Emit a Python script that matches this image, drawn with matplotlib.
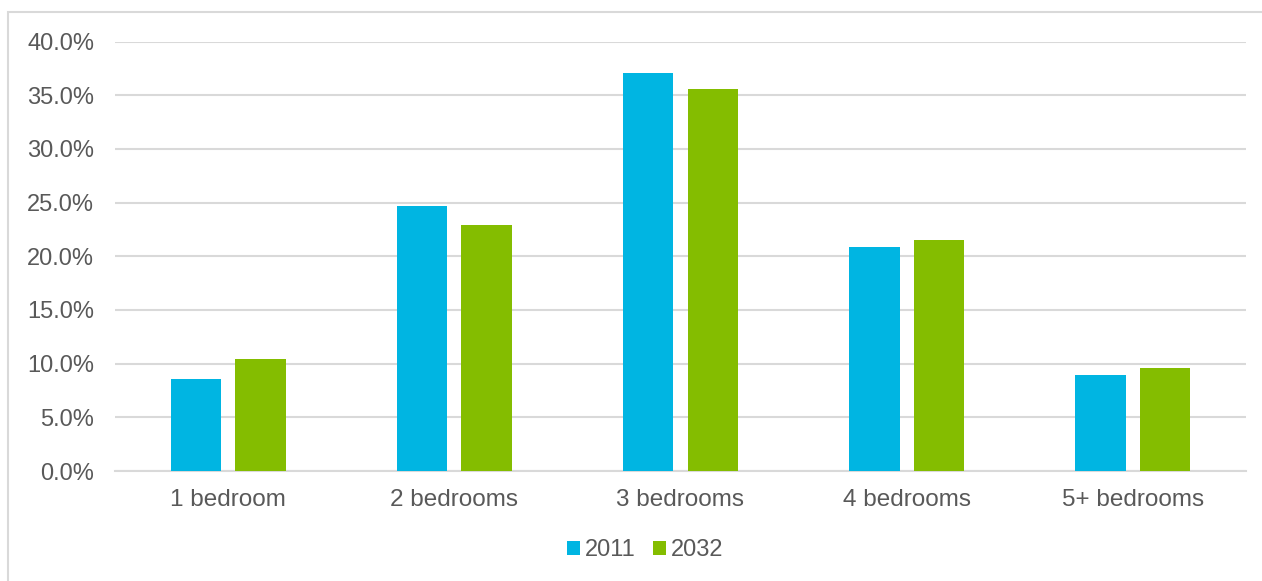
import matplotlib
matplotlib.use("Agg")
import numpy as np
from matplotlib import pyplot as plt
from matplotlib.patches import Rectangle
from matplotlib.ticker import FuncFormatter

categories = ["1 bedroom", "2 bedrooms", "3 bedrooms", "4 bedrooms", "5+ bedrooms"]
share_2011 = [8.55, 24.65, 37.1, 20.85, 8.95]
share_2032 = [10.4, 22.95, 35.55, 21.5, 9.6]
series_labels = ["2011", "2032"]

BLUE = "#00B5E2"
GREEN = "#84BD00"
TEXT = "#595959"
GRID = "#D9D9D9"

plt.rcParams["font.family"] = ["Liberation Sans", "DejaVu Sans"]

fig = plt.figure(figsize=(12.62, 5.81), dpi=100)
ax = fig.add_axes([115 / 1262, 110 / 581, (1246 - 115) / 1262, (471 - 41.5) / 581])

# chart border (only top/left visible in the source)
fig.patches.append(Rectangle((8 / 1262, -0.1), 1.2, (581 - 12) / 581 + 0.1,
                             transform=fig.transFigure, fill=False,
                             edgecolor=GRID, linewidth=1.5))

x = np.arange(len(categories))
width = 0.223
offset = 0.1425
ax.bar(x - offset, share_2011, width, color=BLUE, label=series_labels[0], zorder=3)
ax.bar(x + offset, share_2032, width, color=GREEN, label=series_labels[1], zorder=3)

ax.set_xlim(-0.5, len(categories) - 0.5)
ax.set_ylim(0, 40)
ax.set_yticks(np.arange(0, 40.1, 5))
ax.yaxis.set_major_formatter(FuncFormatter(lambda v, _: f"{v:.1f}%"))
ax.set_xticks(x)
ax.set_xticklabels(categories)

ax.grid(axis="y", color=GRID, linewidth=1.5, zorder=0)
ax.set_axisbelow(True)
for side in ["top", "right", "left"]:
    ax.spines[side].set_visible(False)
ax.spines["bottom"].set_color(GRID)
ax.spines["bottom"].set_linewidth(1.5)
ax.tick_params(axis="y", length=0, labelsize=17, colors=TEXT, pad=15)
ax.tick_params(axis="x", length=0, labelsize=17.5, colors=TEXT, pad=13)

leg = ax.legend(loc="center", bbox_to_anchor=(0.4685, -0.185), ncol=2, frameon=False,
                fontsize=17, handlelength=0.55, handleheight=0.55,
                handletextpad=0.2, columnspacing=0.75)
for t in leg.get_texts():
    t.set_color(TEXT)

fig.savefig("out.png", dpi=100)
